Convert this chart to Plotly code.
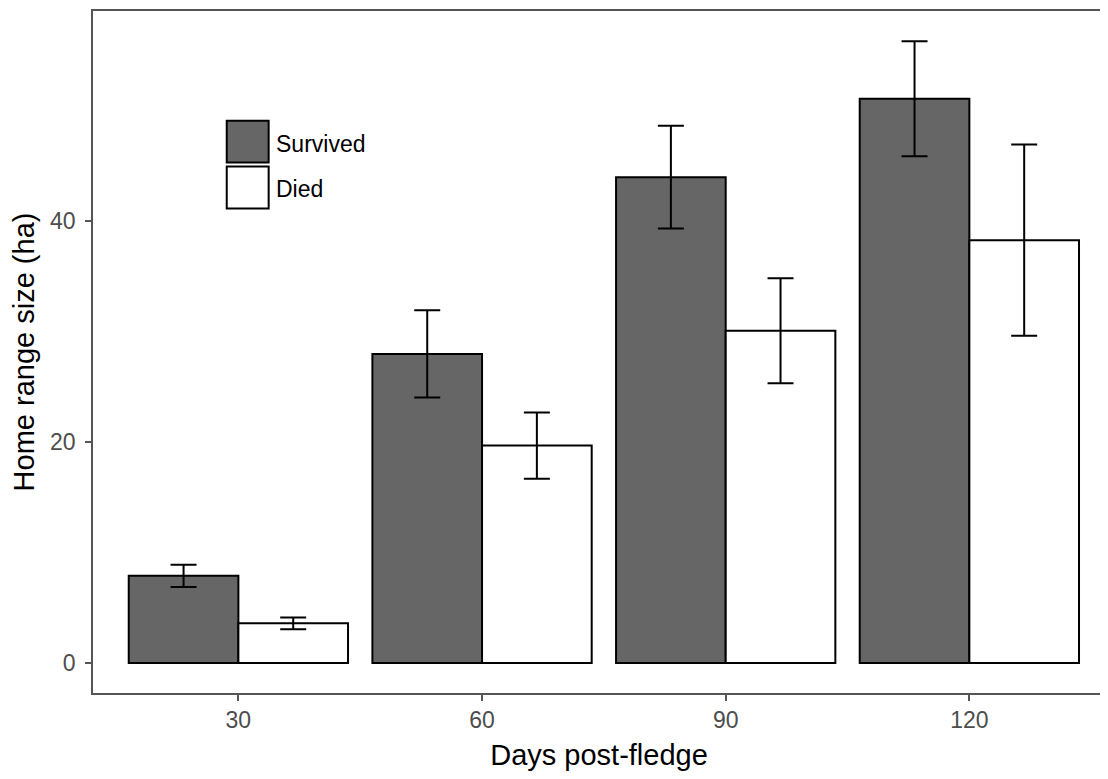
import plotly.graph_objects as go

# ---- data ----
days = [30, 60, 90, 120]
groups = ["Survived", "Died"]
survived_mean = [7.9, 28.0, 44.0, 51.1]
survived_se = [1.0, 3.95, 4.65, 5.2]
died_mean = [3.6, 19.7, 30.1, 38.3]
died_se = [0.53, 3.0, 4.75, 8.65]
y_ticks = [0, 20, 40]
x_ticks = [30, 60, 90, 120]

fills = {"Survived": "#666666", "Died": "#FFFFFF"}
FONT = "Liberation Sans, Arial, sans-serif"

# page body has an 8px default margin; figure sized to fit the window
OFF = 8
W, H = 1100, 771
L, R, T, B = 85, 1, 1, 86

fig = go.Figure()
for name, mean, se in [("Survived", survived_mean, survived_se),
                       ("Died", died_mean, died_se)]:
    fig.add_trace(go.Bar(
        x=days, y=mean, name=name,
        marker=dict(color=fills[name], line=dict(color="#000000", width=2)),
        error_y=dict(type="data", array=se, visible=True, color="#000000",
                     thickness=2, width=13),
        showlegend=False,
    ))

# manual legend (large keys like ggplot), positions in page pixels
pw, ph = W - L - R, H - T - B
def px_x(p):
    return (p - OFF - L) / pw
def px_y(p):
    return 1 - (p - OFF - T) / ph

key_x0, key_x1 = 227, 269
key_tops = [119, 165]
key_h = 42
for name, top in zip(groups, key_tops):
    fig.add_shape(type="rect", xref="paper", yref="paper",
                  x0=px_x(key_x0), x1=px_x(key_x1),
                  y0=px_y(top + key_h), y1=px_y(top),
                  fillcolor=fills[name], line=dict(color="#000000", width=2))
    fig.add_annotation(xref="paper", yref="paper", x=px_x(274),
                       y=px_y(top + key_h / 2 + 2), text=name, showarrow=False,
                       xanchor="left", yanchor="middle",
                       font=dict(family=FONT, size=23, color="#000000"))

fig.update_layout(
    width=W, height=H, autosize=False,
    margin=dict(l=L, r=R, t=T, b=B, pad=0),
    barmode="group", bargap=0.1, bargroupgap=0,
    plot_bgcolor="#FFFFFF", paper_bgcolor="#FFFFFF",
    font=dict(family=FONT),
)
fig.update_xaxes(
    range=[12.1, 136.7], tickvals=x_ticks, ticktext=[str(v) for v in x_ticks],
    showgrid=False, zeroline=False,
    showline=True, linecolor="#555555", linewidth=1.5, mirror=True,
    ticks="outside", ticklen=6, tickwidth=1.5, tickcolor="#555555",
    tickfont=dict(family=FONT, size=23, color="#4D4D4D"),
    title=dict(text="Days post-fledge", standoff=12,
               font=dict(family=FONT, size=29, color="#000000")),
)
fig.update_yaxes(
    range=[-2.71, 59.05], tickvals=y_ticks, ticktext=[str(v) for v in y_ticks],
    showgrid=False, zeroline=False,
    showline=True, linecolor="#555555", linewidth=1.5, mirror=True,
    ticks="outside", ticklen=6, tickwidth=1.5, tickcolor="#555555",
    ticklabelstandoff=5,
    tickfont=dict(family=FONT, size=23, color="#4D4D4D"),
    title=dict(text="Home range size (ha)", standoff=12,
               font=dict(family=FONT, size=29, color="#000000")),
)

fig.write_html("out.html")
